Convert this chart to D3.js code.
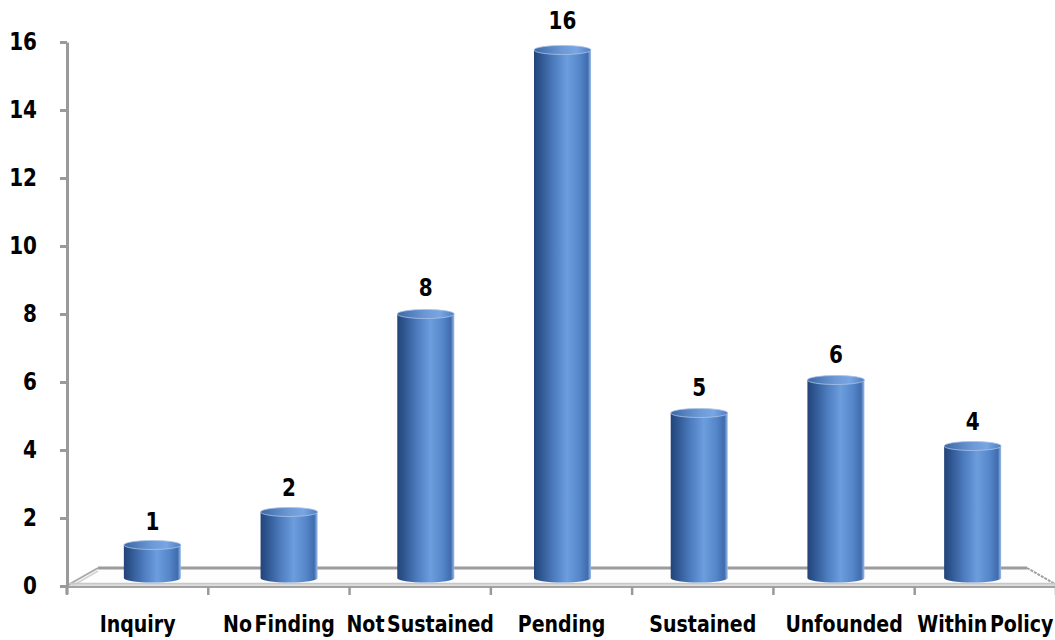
<!DOCTYPE html>
<html>
<head>
<meta charset="utf-8">
<script src="https://cdn.jsdelivr.net/npm/d3@7"></script>
<style>
  html, body { margin: 0; padding: 0; background: #fff; }
  svg { display: block; }
  text { font-family: "DejaVu Sans", Verdana, sans-serif; font-weight: bold; fill: #000; }
</style>
</head>
<body>
<script>
// Complaint dispositions
const categories = ["Inquiry", "No Finding", "Not Sustained", "Pending", "Sustained", "Unfounded", "Within Policy"];
const counts = [1, 2, 8, 16, 5, 6, 4];
const yTicks = [0, 2, 4, 6, 8, 10, 12, 14, 16];

const W = 1055, H = 640;
const svg = d3.select("body").append("svg").attr("width", W).attr("height", H);

// Front plane (axis) and mid-depth plane (bars) of the 3-D box
const yAxis = d3.scaleLinear().domain([0, 16]).range([586, 42]);
const yBar = d3.scaleLinear().domain([0, 16]).range([578, 50]);
const xFront = d3.scaleBand().domain(categories).range([67, 1056]);
const xBar = d3.scaleBand().domain(categories).range([84, 1041])
  .paddingInner(0.583).paddingOuter(0.2915);

const defs = svg.append("defs");
const body = defs.append("linearGradient").attr("id", "cylBody").attr("x1", 0).attr("x2", 1).attr("y1", 0).attr("y2", 0);
[[0, "#22437a"], [0.12, "#2f5690"], [0.35, "#4d7cbf"], [0.58, "#6c9ddd"], [0.8, "#5586c9"], [0.94, "#3f6cae"], [1, "#9dbde6"]]
  .forEach(([o, c]) => body.append("stop").attr("offset", o).attr("stop-color", c));
const cap = defs.append("linearGradient").attr("id", "cylCap").attr("x1", 0).attr("x2", 1).attr("y1", 0).attr("y2", 0);
[[0, "#3d68a6"], [0.5, "#6d9ad6"], [0.75, "#79a6e2"], [1, "#4f7fc2"]]
  .forEach(([o, c]) => cap.append("stop").attr("offset", o).attr("stop-color", c));

// Floor
const floor = svg.append("g");
floor.append("polygon")
  .attr("points", [[98, 568], [1027, 568], [1055, 584], [67, 584]].join(" "))
  .attr("fill", "#fdfdfd");
floor.append("rect").attr("x", 67).attr("y", 584).attr("width", W - 67).attr("height", 3).attr("fill", "#dcdcdc");
floor.append("line").attr("x1", 98).attr("y1", 568).attr("x2", 1027).attr("y2", 568)
  .attr("stroke", "#9c9c9c").attr("stroke-width", 3);
floor.append("line").attr("x1", 98).attr("y1", 568).attr("x2", 68).attr("y2", 585)
  .attr("stroke", "#a8a8a8").attr("stroke-width", 2);
floor.append("line").attr("x1", 98).attr("y1", 571).attr("x2", 72).attr("y2", 586)
  .attr("stroke", "#d4d4d4").attr("stroke-width", 2);
floor.append("line").attr("x1", 1027).attr("y1", 568).attr("x2", 1055).attr("y2", 584)
  .attr("stroke", "#a0a0a0").attr("stroke-width", 2).attr("stroke-dasharray", "3,1");
floor.append("line").attr("x1", 67).attr("y1", 583.5).attr("x2", W).attr("y2", 583.5)
  .attr("stroke", "#c8c8c8").attr("stroke-width", 1.5);
floor.append("line").attr("x1", 67).attr("y1", 587).attr("x2", W).attr("y2", 587)
  .attr("stroke", "#a3a3a3").attr("stroke-width", 2);

// Category tick marks at band boundaries
const boundaries = categories.map(c => xFront(c)).concat([xFront.range()[1]]);
svg.append("g").selectAll("line").data(boundaries).join("line")
  .attr("x1", d => d).attr("x2", d => d).attr("y1", 587).attr("y2", 595)
  .attr("stroke", "#9a9a9a").attr("stroke-width", 2.5);

// Cylinders
const ry = 4.5;
const bars = svg.append("g").selectAll("g").data(categories).join("g");
bars.append("path")
  .attr("d", (c, i) => {
    const x0 = xBar(c), w = xBar.bandwidth(), rx = w / 2;
    const yt = yBar(counts[i]), yb = yBar(0);
    return `M${x0},${yt} L${x0},${yb} A${rx},${ry} 0 0 0 ${x0 + w},${yb} L${x0 + w},${yt} Z`;
  })
  .attr("fill", "url(#cylBody)");
bars.append("ellipse")
  .attr("cx", c => xBar(c) + xBar.bandwidth() / 2)
  .attr("cy", (c, i) => yBar(counts[i]))
  .attr("rx", xBar.bandwidth() / 2).attr("ry", ry)
  .attr("fill", "url(#cylCap)")
  .attr("stroke", "#a9c3e6").attr("stroke-width", 0.8);

// Value labels
svg.append("g").selectAll("text").data(categories).join("text")
  .attr("transform", (c, i) =>
    `translate(${xBar(c) + xBar.bandwidth() / 2},${yBar(counts[i]) - 15 - counts[i] * 0.35}) scale(1,1.2)`)
  .attr("text-anchor", "middle")
  .style("font-size", "20px")
  .text((c, i) => counts[i]);

// Y axis
const gy = svg.append("g").attr("transform", "translate(67,0)")
  .call(d3.axisLeft(yAxis).tickValues(yTicks).tickSize(7).tickSizeOuter(0).tickPadding(23));
gy.select(".domain").attr("stroke", "#9a9a9a").attr("stroke-width", 3);
gy.append("line").attr("x1", 0).attr("x2", 0).attr("y1", yAxis(0)).attr("y2", 594)
  .attr("stroke", "#9a9a9a").attr("stroke-width", 3);
gy.selectAll(".tick line").attr("stroke", "#9a9a9a").attr("stroke-width", 3);
gy.selectAll(".tick text")
  .attr("transform", "scale(1,1.2)")
  .attr("dy", "0.3em")
  .attr("fill", "#000")
  .style("font-family", "'DejaVu Sans', Verdana, sans-serif")
  .style("font-weight", "bold")
  .style("font-size", "20px");

// Category labels
svg.append("g").selectAll("text").data(categories).join("text")
  .attr("transform", c => `translate(${xFront(c) + xFront.bandwidth() / 2},632) scale(1,1.2)`)
  .attr("text-anchor", "middle")
  .style("font-size", "19px")
  .style("word-spacing", "-4px")
  .text(c => c);
</script>
</body>
</html>
